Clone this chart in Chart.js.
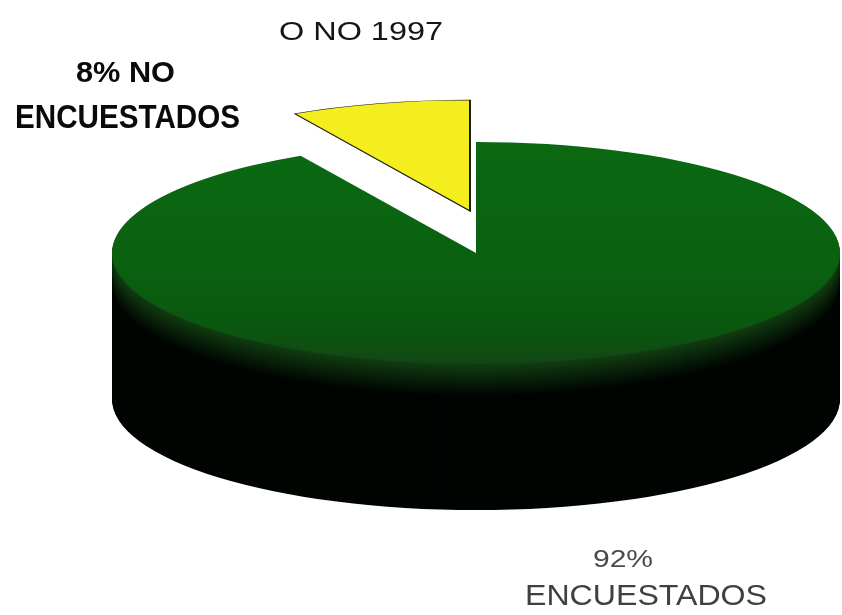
<!DOCTYPE html>
<html>
<head>
<meta charset="utf-8">
<style>
  html, body { margin: 0; padding: 0; background: #ffffff; }
  canvas { display: block; }
</style>
<script src="https://cdn.jsdelivr.net/npm/chart.js@4.4.1/dist/chart.umd.min.js"></script>
</head>
<body>
<canvas id="chart" width="842" height="615"></canvas>
<script>
// Survey coverage, 1997
const categories = ['ENCUESTADOS', 'NO ENCUESTADOS'];
const shares = [92, 8];
const sliceColors = ['#0a6511', '#f4ee1e'];
const titleText = 'O NO 1997';

// Disc geometry / 3D look
const RADIUS = 364;                 // horizontal radius of the disc, px
const TILT = 0.305;                 // vertical squash of the disc
const DEPTH = 146;                  // wall height of the cylinder, px
const EXPLODE = { x: -6, y: -42 };  // on-screen pull-out of the small slice

function squash(ctx, cx, cy) {
  ctx.translate(cx, cy);
  ctx.scale(1, TILT);
  ctx.translate(-cx, -cy);
}

// wall shade by distance below the top rim
function wallColor(t) {
  const k = Math.min(t / 32, 1);
  const a = [18, 62, 18], b = [1, 5, 2];
  const c = a.map((v, i) => Math.round(v + (b[i] - v) * k));
  return `rgb(${c[0]},${c[1]},${c[2]})`;
}

const pie3d = {
  id: 'pie3d',
  beforeDatasetsDraw(chart) {
    const ctx = chart.ctx;
    const meta = chart.getDatasetMeta(0);
    const main = meta.data[0];
    const cx = main.x, cy = main.y;
    ctx.save();
    // cylinder wall under the large slice
    for (let t = DEPTH; t >= 1; t--) {
      ctx.save();
      ctx.translate(0, t);
      squash(ctx, cx, cy);
      ctx.beginPath();
      ctx.moveTo(cx, cy);
      ctx.arc(cx, cy, main.outerRadius, main.startAngle, main.endAngle);
      ctx.closePath();
      ctx.fillStyle = wallColor(t);
      ctx.fill();
      ctx.restore();
    }
    // lift the small slice out of the disc
    const small = meta.data[1];
    if (small && !small.$pulled) {
      const baseDraw = small.draw;
      small.draw = function (c) {
        c.save();
        c.translate(EXPLODE.x, EXPLODE.y / TILT);
        baseDraw.call(this, c);
        c.restore();
      };
      small.$pulled = true;
    }
    squash(ctx, cx, cy);
  },
  afterDatasetsDraw(chart) {
    chart.ctx.restore();
  }
};

// text squeezed/stretched to a given width
function fitText(ctx, text, x, baseline, width, size, color, weight) {
  ctx.save();
  ctx.font = `${weight || 'normal'} ${size}px "Liberation Sans", Arial, sans-serif`;
  ctx.fillStyle = color;
  ctx.textBaseline = 'alphabetic';
  ctx.textAlign = 'left';
  const w = ctx.measureText(text).width;
  ctx.translate(x, baseline);
  ctx.scale(width / w, 1);
  ctx.fillText(text, 0, 0);
  ctx.restore();
}

const labels = {
  id: 'labels',
  afterDraw(chart) {
    const ctx = chart.ctx;
    fitText(ctx, titleText, 279, 40, 164, 26, '#151515');
    // small slice
    fitText(ctx, `${shares[1]}% NO`, 76, 82, 99, 30, '#0a0a0a', 'bold');
    fitText(ctx, categories[0], 15, 128, 225, 34, '#0a0a0a', 'bold');
    // large slice
    fitText(ctx, `${shares[0]}%`, 593, 567, 60, 23, '#4a4a4a');
    fitText(ctx, categories[0], 525, 605, 242, 29, '#404040');
  }
};

new Chart(document.getElementById('chart'), {
  type: 'pie',
  data: {
    labels: categories,
    datasets: [{
      data: shares,
      clip: false,
      backgroundColor(c) {
        if (c.dataIndex !== 0) return sliceColors[1];
        const area = c.chart.chartArea;
        if (!area) return sliceColors[0];
        const cy = (area.top + area.bottom) / 2;
        const g = c.chart.ctx.createLinearGradient(0, cy - RADIUS, 0, cy + RADIUS);
        g.addColorStop(0, '#0b6912');
        g.addColorStop(0.55, '#0a6110');
        g.addColorStop(0.85, '#0b560f');
        g.addColorStop(1, '#124615');
        return g;
      },
      borderColor: ['rgba(0,0,0,0)', '#1e1e08'],
      borderWidth: [0, 2],
      borderJoinStyle: 'miter'
    }]
  },
  options: {
    responsive: false,
    animation: false,
    devicePixelRatio: 1,
    radius: RADIUS,
    layout: { padding: { left: 110, right: 0, top: 0, bottom: 109 } },
    plugins: {
      legend: { display: false },
      tooltip: { enabled: false },
      title: { display: false }
    }
  },
  plugins: [pie3d, labels]
});
</script>
</body>
</html>
